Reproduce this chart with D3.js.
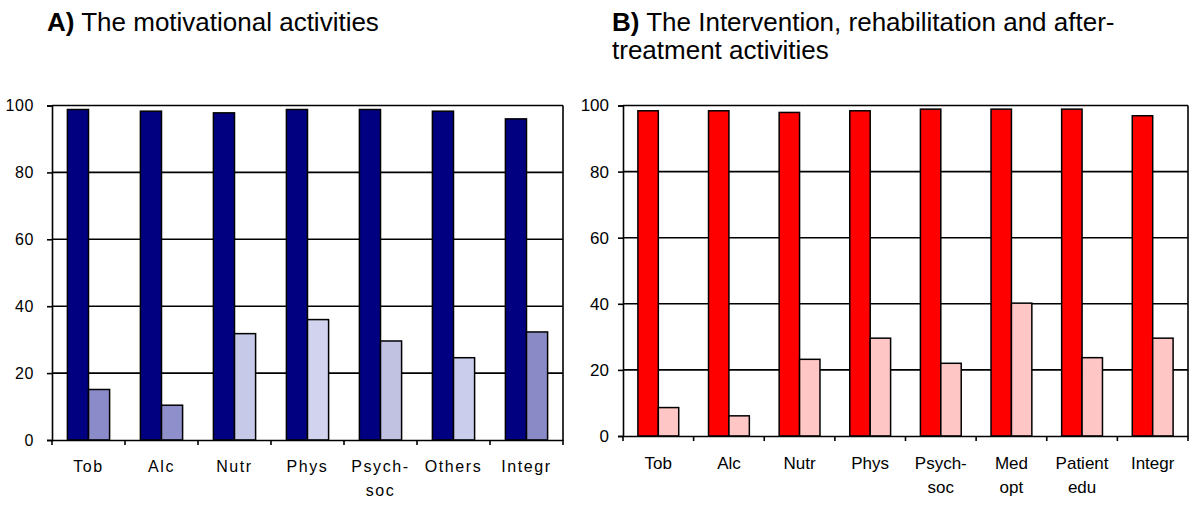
<!DOCTYPE html>
<html>
<head>
<meta charset="utf-8">
<script src="https://cdn.jsdelivr.net/npm/d3@7"></script>
<style>
  html, body { margin: 0; padding: 0; background: #fff; }
  svg { display: block; font-family: Arial, "Liberation Sans", sans-serif; }
</style>
</head>
<body>
<svg id="chart" width="1200" height="507"></svg>
<script>
// ---- Data ----
const catsA = ["Tob", "Alc", "Nutr", "Phys", "Psych-\nsoc", "Others", "Integr"];
const darkA = [98.8, 98.3, 97.8, 98.8, 98.8, 98.3, 96.0];
const lightA = [15.1, 10.4, 31.8, 36.0, 29.6, 24.6, 32.3];
const lightColorsA = ["#8b8bc9", "#8f8fcc", "#c6c9e8", "#d2d3ee", "#c1c1e1", "#cbcdec", "#8a8ac6"];

const catsB = ["Tob", "Alc", "Nutr", "Phys", "Psych-\nsoc", "Med\nopt", "Patient\nedu", "Integr"];
const redB = [98.4, 98.4, 97.9, 98.4, 98.9, 98.9, 98.9, 96.9];
const pinkB = [8.6, 6.1, 23.2, 29.6, 22.0, 40.2, 23.7, 29.6];

const yTicks = [0, 20, 40, 60, 80, 100];

const svg = d3.select("#chart");

function panel(cfg) {
  const g = svg.append("g");
  const x = d3.scaleBand().domain(cfg.cats).range([cfg.x0, cfg.x1]).paddingInner(0).paddingOuter(0);
  const xs = d3.scaleBand().domain([0, 1]).range([0, x.bandwidth()]).paddingInner(0).paddingOuter(0.73);
  const y = d3.scaleLinear().domain([0, 100]).range([cfg.y0, cfg.y1]);

  // gridlines
  g.selectAll("line.grid").data(yTicks.filter(d => d > 0)).join("line")
    .attr("x1", cfg.x0).attr("x2", cfg.x1)
    .attr("y1", d => y(d)).attr("y2", d => y(d))
    .attr("stroke", "#000").attr("stroke-width", 1.6);
  // right border
  g.append("line").attr("x1", cfg.x1).attr("x2", cfg.x1).attr("y1", y(100)).attr("y2", y(0))
    .attr("stroke", "#000").attr("stroke-width", 1.6);

  // bars
  const rows = cfg.cats.map((c, i) => ({ c, i }));
  g.selectAll("rect.s0").data(rows).join("rect")
    .attr("x", d => x(d.c) + xs(0)).attr("width", xs.bandwidth())
    .attr("y", d => y(cfg.s0[d.i])).attr("height", d => y(0) - y(cfg.s0[d.i]))
    .attr("fill", cfg.c0).attr("stroke", "#000").attr("stroke-width", 1.5);
  g.selectAll("rect.s1").data(rows).join("rect")
    .attr("x", d => x(d.c) + xs(1)).attr("width", xs.bandwidth())
    .attr("y", d => y(cfg.s1[d.i])).attr("height", d => y(0) - y(cfg.s1[d.i]))
    .attr("fill", d => cfg.c1[d.i]).attr("stroke", "#000").attr("stroke-width", 1.5);

  // y axis
  const ya = g.append("g").attr("transform", `translate(${cfg.x0},0)`)
    .call(d3.axisLeft(y).tickValues(yTicks).tickSize(5).tickPadding(cfg.yPad));
  ya.select(".domain").attr("stroke-width", 1.6);
  ya.selectAll(".tick line").attr("stroke-width", 1.6);
  ya.selectAll(".tick text").attr("font-size", cfg.yFont).attr("fill", "#000")
    .attr("font-family", "Arial, 'Liberation Sans', sans-serif").attr("letter-spacing", cfg.yLs);

  // x axis
  const xa = g.append("g").attr("transform", `translate(0,${cfg.y0})`)
    .call(d3.axisBottom(x).tickSize(0).tickFormat(""));
  xa.select(".domain").attr("stroke-width", 1.6);
  const bounds = cfg.cats.map(c => x(c)).concat([cfg.x1]);
  g.selectAll("line.xt").data(bounds).join("line")
    .attr("x1", d => d).attr("x2", d => d).attr("y1", cfg.y0).attr("y2", cfg.y0 + 5)
    .attr("stroke", "#000").attr("stroke-width", 1.6);
  const lbl = g.selectAll("text.xl").data(cfg.cats).join("text")
    .attr("x", d => x(d) + x.bandwidth() / 2).attr("y", cfg.xLab)
    .attr("text-anchor", "middle").attr("font-size", cfg.xFont).attr("letter-spacing", cfg.xLs);
  lbl.selectAll("tspan").data(d => d.split("\n")).join("tspan")
    .attr("x", function () { return d3.select(this.parentNode).attr("x"); })
    .attr("dy", (d, i) => i === 0 ? 0 : cfg.lineH)
    .text(d => d);

  // title
  const t = svg.append("text").attr("x", cfg.tx).attr("y", cfg.ty).attr("font-size", 26);
  cfg.title.forEach((line, i) => {
    const ts = t.append("tspan").attr("x", cfg.tx).attr("dy", i === 0 ? 0 : 28);
    if (line.bold) ts.append("tspan").attr("font-weight", "bold").text(line.bold);
    ts.append("tspan").text(line.text);
  });
}

panel({
  cats: catsA, s0: darkA, s1: lightA, c0: "#000080", c1: lightColorsA,
  x0: 52, x1: 563, y0: 440, y1: 105.5,
  yFont: 16, yLs: 0.6, yPad: 13, xFont: 16, xLs: 1.6, xLab: 472, lineH: 24,
  tx: 47, ty: 31,
  title: [{ bold: "A)", text: " The motivational activities" }]
});

panel({
  cats: catsB, s0: redB, s1: pinkB, c0: "#ff0000", c1: catsB.map(() => "#ffc6c6"),
  x0: 623, x1: 1188, y0: 436, y1: 105.5,
  yFont: 17, yLs: 0, yPad: 9, xFont: 17, xLs: 0, xLab: 469, lineH: 24,
  tx: 612, ty: 31,
  title: [{ bold: "B)", text: " The Intervention, rehabilitation and after-" }, { text: "treatment activities" }]
});
</script>
</body>
</html>
